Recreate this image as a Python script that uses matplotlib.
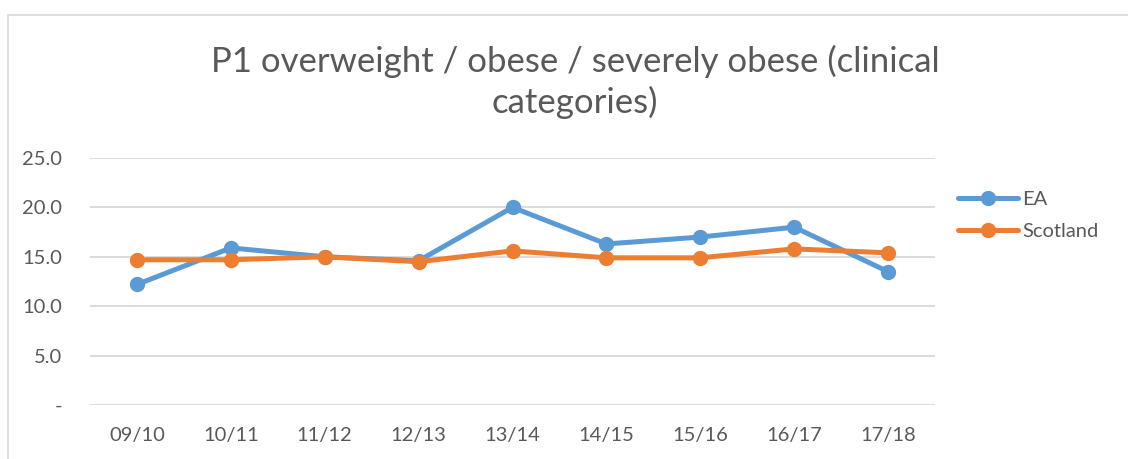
import matplotlib.pyplot as plt
import numpy as np
from matplotlib.patches import Rectangle

# datos
years = ['09/10', '10/11', '11/12', '12/13', '13/14', '14/15', '15/16', '16/17', '17/18']
ea = [12.2, 15.9, 15.0, 14.6, 20.0, 16.3, 17.0, 18.0, 13.5]
scotland = [14.7, 14.7, 15.0, 14.5, 15.6, 14.9, 14.9, 15.8, 15.4]
yticks = [0, 5, 10, 15, 20, 25]
ylabels = ['-', '5.0', '10.0', '15.0', '20.0', '25.0']

plt.rcParams['font.family'] = ['Lato', 'DejaVu Sans']
txt = '#595959'

fig = plt.figure(figsize=(11.28, 4.59), dpi=100)
ax = fig.add_axes([90/1128, 1-405/459, 845/1128, (405-158)/459])

# marco del gráfico (cortado a la derecha y abajo)
fig.patches.append(Rectangle((8/1128, -0.1), 1.2, 1-15/459+0.1, transform=fig.transFigure,
                             fill=False, edgecolor='#D9D9D9', linewidth=1.2))

x = np.arange(len(years))
ax.plot(x, ea, color='#5B9BD5', lw=3.6, marker='o', ms=10, label='EA', solid_capstyle='round')
ax.plot(x, scotland, color='#ED7D31', lw=3.6, marker='o', ms=10, label='Scotland', solid_capstyle='round')

ax.set_xlim(-0.5, len(years)-0.5)
ax.set_ylim(0, 25)
ax.set_yticks(yticks)
ax.set_yticklabels(ylabels)
ax.set_xticks(x)
ax.set_xticklabels(years)
ax.grid(axis='y', color='#D9D9D9', lw=1.3)
ax.set_axisbelow(True)
for s in ax.spines.values():
    s.set_visible(False)
ax.tick_params(length=0, labelsize=14.5, colors=txt)
ax.tick_params(axis='y', pad=20)
ax.tick_params(axis='x', pad=16)

fig.text(575/1128, 1-82/459, 'P1 overweight / obese / severely obese (clinical\ncategories)',
         ha='center', va='center', fontsize=25, color=txt, linespacing=1.32)

leg = ax.legend(loc='upper left', bbox_to_anchor=(948/1128, 1-181/459), bbox_transform=fig.transFigure,
                frameon=False, fontsize=14.5, labelcolor=txt, handlelength=3.0, handletextpad=0.2,
                labelspacing=0.75, borderpad=0)

fig.savefig('out.png', dpi=100)
